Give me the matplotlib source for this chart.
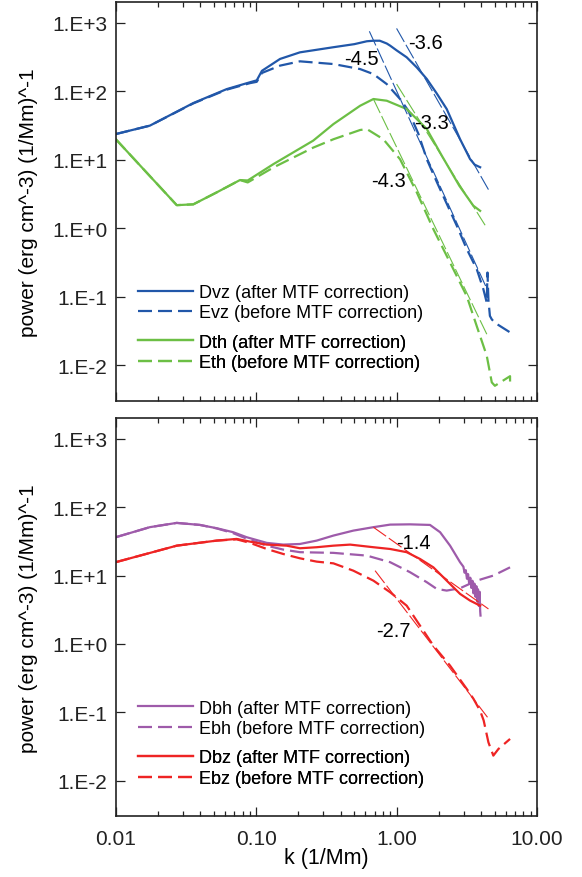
import numpy as np
import matplotlib
matplotlib.use("Agg")
import matplotlib.pyplot as plt
from matplotlib.lines import Line2D

plt.rcParams['font.family'] = ['Liberation Sans', 'DejaVu Sans']

# ---------------- data ----------------
# top panel
k_dvz = [0.010, 0.0175, 0.0357, 0.0617, 0.0904, 0.101, 0.110, 0.148, 0.205, 0.355,
         0.50, 0.614, 0.684, 0.759, 0.851, 0.900, 1.0, 1.180, 1.393, 1.641, 1.932,
         2.275, 2.831, 3.334, 3.60, 3.936]
p_dvz = [23.8, 31.6, 67.6, 108, 136, 145, 200, 298, 372, 442,
         490, 540, 550, 550, 501, 466, 398, 315, 224, 152, 93.3,
         55.3, 20.1, 10.3, 8.5, 7.8]

k_evz = [0.010, 0.0175, 0.0357, 0.0617, 0.0904, 0.101, 0.110, 0.148, 0.205, 0.355,
         0.550, 0.684, 0.851, 1.059, 1.213, 1.43, 1.648, 1.941, 2.685, 3.162, 3.724, 4.150,
         4.385, 4.44, 4.51, 4.62, 4.764, 5.012, 6.427]
p_evz = [23.8, 31.6, 66.8, 106, 132, 138, 186, 238, 275, 251,
         212, 179, 128, 77.4, 52.2, 24.0, 10.0, 4.68, 1.09, 0.497, 0.253, 0.129,
         0.0826, 0.226, 0.089, 0.0525, 0.0468, 0.0417, 0.0302]

k_dth = [0.010, 0.0272, 0.0357, 0.0524, 0.0767, 0.0871, 0.133, 0.255, 0.355, 0.550,
         0.684, 0.851, 1.180, 1.641, 2.10, 2.80, 3.52, 3.936]
p_dth = [20.1, 2.18, 2.24, 3.35, 5.07, 5.0, 8.69, 19.1, 33.3, 61.7,
         77.4, 73.1, 55.3, 28.2, 11.5, 4.17, 2.14, 1.80]

k_eth = [0.010, 0.0272, 0.0357, 0.0524, 0.0767, 0.0871, 0.133, 0.255, 0.355, 0.550,
         0.614, 0.805, 1.059, 1.393, 1.828, 2.404, 3.162, 3.724, 4.385, 4.764,
         5.012, 6.427, 6.43]
p_eth = [20.1, 2.18, 2.24, 3.35, 5.07, 4.68, 7.76, 15.1, 20.0, 27.3,
         28.2, 20.0, 10.2, 3.35, 0.972, 0.316, 0.102, 0.0372, 0.0138, 0.00562,
         0.00501, 0.00692, 0.00500]

fit_vz_k = [1.0, 4.51]
fit_vz_p = [832, 3.68]
fit_evz_k = [0.640, 4.39]
fit_evz_p = [755, 0.132]
fit_th_k = [1.0, 4.27]
fit_th_p = [128, 1.11]
fit_eth_k = [0.684, 4.39]
fit_eth_p = [77.4, 0.0284]

# bottom panel
k_dbh = [0.010, 0.0175, 0.0272, 0.0398, 0.0524, 0.0687, 0.0857, 0.119, 0.156, 0.205,
         0.270, 0.355, 0.492, 0.684, 0.900, 1.247, 1.730, 2.042, 2.404, 2.831, 2.99,
         3.05, 3.11, 3.17, 3.23, 3.29, 3.35, 3.41, 3.47, 3.53, 3.59, 3.65, 3.70,
         3.75, 3.80, 3.85, 3.90, 3.94, 3.96]
p_dbh = [36.4, 51.1, 59.0, 55.1, 49.3, 43.1, 36.4, 30.1, 28.4, 29.0,
         32.5, 38.5, 45.5, 51.1, 55.7, 56.2, 55.1, 43.1, 27.4, 15.7, 13.5,
         11.0, 12.0, 9.0, 10.5, 7.6, 9.3, 6.6, 8.4, 5.5, 7.6, 4.9, 7.0,
         4.2, 6.3, 3.6, 5.8, 3.0, 2.6]

k_ebh = [0.010, 0.0175, 0.0272, 0.0398, 0.0524, 0.0687, 0.0857, 0.119, 0.156, 0.205,
         0.355, 0.614, 0.900, 1.247, 1.641, 1.932, 2.275, 2.831, 3.724, 4.887, 6.427]
p_ebh = [36.4, 51.1, 59.0, 55.1, 49.0, 41.7, 34.7, 27.4, 24.0, 22.0,
         21.5, 19.6, 15.7, 11.2, 8.0, 6.38, 6.03, 6.53, 8.43, 10.0, 13.2]

k_dbz = [0.010, 0.0272, 0.0524, 0.0726, 0.0904, 0.119, 0.165, 0.205, 0.270, 0.355,
         0.467, 0.684, 0.900, 1.180, 1.469, 1.828, 2.275, 2.831, 3.334, 3.936]
p_dbz = [15.7, 27.4, 32.5, 34.4, 31.4, 28.4, 27.4, 25.1, 26.0, 27.4,
         28.4, 26.0, 24.5, 22.0, 17.5, 13.2, 8.43, 5.40, 4.31, 3.63]

k_ebz = [0.010, 0.0272, 0.0524, 0.0726, 0.0904, 0.119, 0.156, 0.205, 0.270, 0.355,
         0.492, 0.684, 0.900, 1.180, 1.469, 1.828, 2.404, 3.162, 3.524, 3.936, 4.17,
         4.508, 4.887, 5.309, 6.427]
p_ebz = [15.7, 27.4, 32.5, 33.9, 30.1, 24.5, 20.7, 17.9, 16.0, 15.1,
         11.8, 8.43, 5.70, 3.63, 1.85, 0.944, 0.481, 0.219, 0.158, 0.105, 0.0759,
         0.0363, 0.0232, 0.0290, 0.0407]

fit_bz_k = [0.684, 4.51]
fit_bz_p = [51.0, 3.25]
fit_ebz_k = [0.703, 4.44]
fit_ebz_p = [11.8, 0.0845]

slope_labels_top = [("-3.6", 1.60, 522), ("-4.5", 0.565, 305), ("-3.3", 1.78, 35.3), ("-4.3", 0.875, 5.07)]
slope_labels_bot = [("-1.4", 1.32, 30.8), ("-2.7", 0.948, 1.57)]

xticks = [0.01, 0.1, 1.0, 10.0]
xticklabels = ["0.01", "0.10", "1.00", "10.00"]
yticks = [1e-2, 1e-1, 1e0, 1e1, 1e2, 1e3]
yticklabels = ["1.E-2", "1.E-1", "1.E+0", "1.E+1", "1.E+2", "1.E+3"]

# ---------------- styling ----------------
BLUE = "#2157A9"
GREEN = "#6CBF45"
PURPLE = "#9E5BAA"
RED = "#EE2424"
LW = 1.6
DASH = (0, (6.3, 2.7))
FITLS = (0, (14, 3))

fig = plt.figure(figsize=(5.82, 8.78), dpi=100)
ax1 = fig.add_axes([0.1988, 0.5421, 0.7239, 0.4541])
ax2 = fig.add_axes([0.1988, 0.0691, 0.7239, 0.4533])


def style_axis(ax, show_xlabels):
    ax.set_xscale('log')
    ax.set_yscale('log')
    ax.set_xlim(0.01, 10.0)
    ax.set_ylim(3.0e-3, 2.0e3)
    ax.yaxis.set_major_locator(matplotlib.ticker.FixedLocator(yticks))
    ax.yaxis.set_major_formatter(matplotlib.ticker.FixedFormatter(yticklabels))
    ax.yaxis.set_minor_locator(matplotlib.ticker.NullLocator())
    ax.xaxis.set_major_locator(matplotlib.ticker.FixedLocator(xticks))
    ax.xaxis.set_minor_locator(matplotlib.ticker.LogLocator(base=10, subs=np.arange(2, 10)))
    ax.xaxis.set_minor_formatter(matplotlib.ticker.NullFormatter())
    if show_xlabels:
        ax.xaxis.set_major_formatter(matplotlib.ticker.FixedFormatter(xticklabels))
    else:
        ax.xaxis.set_major_formatter(matplotlib.ticker.NullFormatter())
    ax.tick_params(which='both', direction='in', top=True, right=True, colors='#222222')
    ax.tick_params(which='major', length=6.5, width=0.9, labelsize=15)
    ax.tick_params(which='minor', length=3.5, width=0.9)
    ax.tick_params(axis='y', which='major', pad=6)
    ax.tick_params(axis='x', which='major', pad=9)
    for s in ax.spines.values():
        s.set_linewidth(1.2)
        s.set_color('#222222')
    ax.set_ylabel("power (erg cm^-3) (1/Mm)^-1", fontsize=15)
    ax.yaxis.set_label_coords(-0.185, 0.5)


style_axis(ax1, False)
style_axis(ax2, True)
ax2.set_xlabel("k (1/Mm)", fontsize=15.5)
ax2.xaxis.set_label_coords(0.5, -0.078)

# top panel curves
ax1.plot(k_dvz, p_dvz, color=BLUE, lw=LW)
ax1.plot(k_evz, p_evz, color=BLUE, lw=LW, linestyle=DASH)
ax1.plot(k_dth, p_dth, color=GREEN, lw=LW)
ax1.plot(k_eth, p_eth, color=GREEN, lw=LW, linestyle=DASH)
ax1.plot(fit_vz_k, fit_vz_p, color=BLUE, lw=0.8, linestyle=FITLS)
ax1.plot(fit_evz_k, fit_evz_p, color=BLUE, lw=0.8, linestyle=FITLS)
ax1.plot(fit_th_k, fit_th_p, color=GREEN, lw=0.8, linestyle=FITLS)
ax1.plot(fit_eth_k, fit_eth_p, color=GREEN, lw=0.8, linestyle=FITLS)
for t, x, y in slope_labels_top:
    ax1.text(x, y, t, ha='center', va='center', fontsize=14.5, color='black')

# bottom panel curves
ax2.plot(k_dbh, p_dbh, color=PURPLE, lw=LW)
ax2.plot(k_ebh, p_ebh, color=PURPLE, lw=LW, linestyle=DASH)
ax2.plot(k_dbz, p_dbz, color=RED, lw=LW)
ax2.plot(k_ebz, p_ebz, color=RED, lw=LW, linestyle=DASH)
ax2.plot(fit_bz_k, fit_bz_p, color=RED, lw=0.8, linestyle=FITLS)
ax2.plot(fit_ebz_k, fit_ebz_p, color=RED, lw=0.8, linestyle=FITLS)
for t, x, y in slope_labels_bot:
    ax2.text(x, y, t, ha='center', va='center', fontsize=14.5, color='black')


def add_legend(ax, entries, ycenter):
    handles = [Line2D([], [], color=c, lw=LW, linestyle=ls) for c, ls, _ in entries]
    labels = [l for _, _, l in entries]
    leg = ax.legend(handles, labels, loc='center left', bbox_to_anchor=(0.054, ycenter),
                    frameon=False, fontsize=13, borderpad=0, borderaxespad=0,
                    labelspacing=0.19, handlelength=3.0, handletextpad=0.38)
    ax.add_artist(leg)


add_legend(ax1, [(BLUE, '-', 'Dvz (after MTF correction)'),
                 (BLUE, DASH, 'Evz (before MTF correction)')], 0.2467)
add_legend(ax1, [(GREEN, '-', 'Dth (after MTF correction)'),
                 (GREEN, DASH, 'Eth (before MTF correction)')], 0.1222)
add_legend(ax2, [(PURPLE, '-', 'Dbh (after MTF correction)'),
                 (PURPLE, DASH, 'Ebh (before MTF correction)')], 0.2463)
add_legend(ax2, [(RED, '-', 'Dbz (after MTF correction)'),
                 (RED, DASH, 'Ebz (before MTF correction)')], 0.1210)

fig.savefig("out.png", dpi=100)
